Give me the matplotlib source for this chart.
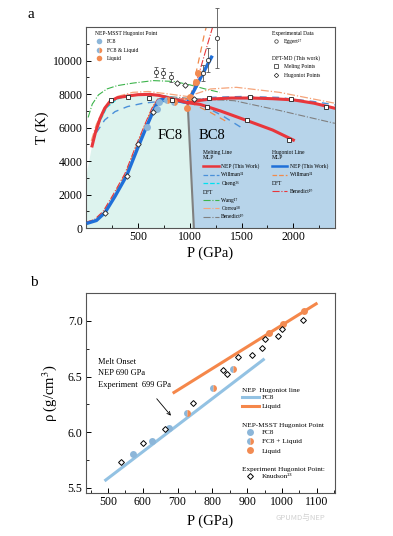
import numpy as np
import matplotlib.pyplot as plt
from matplotlib.lines import Line2D
from matplotlib.legend import Legend

plt.rcParams['font.family'] = ['Liberation Serif', 'DejaVu Serif']
plt.rcParams['mathtext.fontset'] = 'stix'
plt.rcParams['xtick.direction'] = 'in'
plt.rcParams['ytick.direction'] = 'in'

# ---------------- panel a data (P in GPa, T in K) ----------------
melt_fc8_P = [58, 90, 135, 180, 230, 300, 400, 500, 615, 700, 780, 870, 980]
melt_fc8_T = [4900, 5700, 6540, 7150, 7550, 7780, 7880, 7960, 7980, 7920, 7800, 7650, 7480]
melt_bc8_P = [980, 1100, 1200, 1400, 1600, 1800, 2000, 2200, 2400]
melt_bc8_T = [7480, 7620, 7700, 7760, 7760, 7720, 7650, 7450, 7150]
melt_meta_P = [980, 1100, 1300, 1550, 1800, 2000]
melt_meta_T = [7480, 7380, 6980, 6420, 5850, 5250]

hug_P = [20, 100, 183, 280, 391, 503, 590, 650, 700, 760, 850, 940, 980, 1050, 1120, 1210]
hug_T = [300, 450, 920, 1900, 3120, 4850, 6150, 7000, 7600, 7750, 7650, 7520, 7500, 8300, 9150, 10200]

willman_melt_P = [100, 180, 280, 400, 550, 700, 850, 980, 1200, 1500, 1850, 2200, 2400]
willman_melt_T = [5700, 6450, 6950, 7250, 7450, 7550, 7550, 7500, 7800, 7850, 7800, 7550, 7350]
willman_meta_P = [1000, 1150, 1330, 1510]
willman_meta_T = [7550, 7250, 6650, 5950]
cheng_P = [60, 120, 200, 300, 450, 600, 750, 900]
cheng_T = [5000, 6200, 7200, 7700, 7950, 8000, 7900, 7700]
wang_P = [20, 60, 120, 200, 300, 450, 650, 850, 1000, 1150, 1290]
wang_T = [6600, 7400, 7950, 8300, 8500, 8650, 8800, 8750, 8550, 8300, 8100]
correa_P = [50, 100, 180, 300, 450, 600, 800, 980, 1200, 1450, 1865, 2400]
correa_T = [5200, 6200, 7200, 7850, 8100, 8150, 8000, 7850, 8300, 8400, 8100, 7450]
benedict_melt_P = [60, 120, 200, 300, 450, 600, 800, 980, 1430, 1865, 2400]
benedict_melt_T = [5100, 6300, 7250, 7750, 7950, 8000, 7850, 7750, 7600, 7020, 6250]

willman_hug_P = [10, 90, 173, 270, 381, 493, 580, 640, 690, 1000, 1030, 1080, 1144, 1160]
willman_hug_T = [350, 520, 1000, 2000, 3250, 5000, 6300, 7150, 7700, 7700, 8400, 9800, 11650, 12000]
willman_hug2_P = [1000, 1200, 1385]
willman_hug2_T = [7500, 6900, 6250]
benedict_hug_P = [0, 80, 165, 262, 375, 487, 575, 635, 690, 1000, 1077, 1150, 1240]
benedict_hug_T = [350, 500, 1000, 2000, 3250, 5000, 6300, 7150, 7700, 7700, 8950, 10500, 12400]

boundary_P = [1040, 980]
boundary_T = [0, 7480]

msst_fc8_P = [587, 683, 705]
msst_fc8_T = [6060, 7090, 7550]
msst_mix_P = [780, 850]
msst_mix_T = [7650, 7500]
msst_liq_P = [970, 1000, 1058, 1077]
msst_liq_T = [7150, 7800, 8700, 9250]

eggert_P = [673, 740, 817, 1125, 1173, 1260]
eggert_T = [9300, 9250, 9000, 9250, 10030, 11350]
eggert_err = [300, 300, 300, 500, 700, 1800]

dft_melt_P = [240, 404, 606, 830, 1183, 1577, 1980, 2317, 1163, 1548, 1962]
dft_melt_T = [7620, 7800, 7750, 7620, 7750, 7800, 7680, 7200, 7200, 6420, 5280]
dft_hug_P = [183, 391, 503, 650, 875, 952, 1040]
dft_hug_T = [920, 3120, 5022, 6900, 8650, 8530, 7700]

# ---------------- panel b data (P in GPa, rho in g/cm3) ----------------
line_fc8_P = [490, 950]
line_fc8_rho = [5.563, 6.66]
line_liq_P = [686, 1102]
line_liq_rho = [6.35, 7.16]
b_fc8_P = [572, 626, 675]
b_fc8_rho = [5.806, 5.92, 6.04]
b_mix_P = [726, 802, 859]
b_mix_rho = [6.17, 6.398, 6.572]
b_liq_P = [964, 1002, 1062]
b_liq_rho = [6.893, 6.975, 7.088]
knudson_P = [537, 600, 663, 744, 830, 842, 873, 915, 942, 950, 988, 999, 1060]
knudson_rho = [5.73, 5.90, 6.03, 6.26, 6.557, 6.527, 6.677, 6.689, 6.752, 6.833, 6.863, 6.923, 7.004]

RED = '#e8363b'
BLUE = '#1f6fd8'
WBLUE = '#4a90d9'
CYAN = '#00e0f0'
GREEN = '#3cb44b'
CORREA = '#f5a47a'
GRAY = '#808080'
ODASH = '#f08a4b'
PT_BLUE = '#8cb6d9'
PT_ORANGE = '#f28b52'
FC8_FILL = '#ddf3ee'
BC8_FILL = '#b7d4ea'

fig = plt.figure(figsize=(3.93, 5.36), dpi=100)
ax = fig.add_axes([0.219, 0.5746, 0.633, 0.375])
bx = fig.add_axes([0.219, 0.0802, 0.633, 0.3732])

# ---------------- panel a ----------------
ax.fill(
    [0, 0] + melt_fc8_P + [boundary_P[0]],
    [0, 3000] + melt_fc8_T + [0],
    color=FC8_FILL, lw=0, zorder=0)
ax.fill(
    [boundary_P[0]] + melt_bc8_P + [2400],
    [0] + melt_bc8_T + [0],
    color=BC8_FILL, lw=0, zorder=0)
ax.plot(boundary_P, boundary_T, color=GRAY, lw=1.5, zorder=1)

ax.plot(wang_P, wang_T, color=GREEN, ls='-.', lw=0.8)
ax.plot(correa_P, correa_T, color=CORREA, ls='-.', lw=0.9)
ax.plot(benedict_melt_P, benedict_melt_T, color=GRAY, ls='-.', lw=0.8)
ax.plot(cheng_P, cheng_T, color=CYAN, ls='--', lw=0.9)
ax.plot(willman_melt_P, willman_melt_T, color=WBLUE, ls=(0, (5, 4)), lw=1.0)
ax.plot(willman_meta_P, willman_meta_T, color=WBLUE, ls=(0, (5, 4)), lw=1.0)
ax.plot(willman_hug_P, willman_hug_T, color=ODASH, ls=(0, (5, 4)), lw=0.9)
ax.plot(willman_hug2_P, willman_hug2_T, color=ODASH, ls=(0, (5, 4)), lw=0.9)
ax.plot(benedict_hug_P, benedict_hug_T, color=RED, ls='-.', lw=0.8)

ax.plot(hug_P, hug_T, color=BLUE, lw=2.4, zorder=3)
ax.plot(melt_fc8_P, melt_fc8_T, color=RED, lw=2.2, zorder=3)
ax.plot(melt_bc8_P, melt_bc8_T, color=RED, lw=2.2, zorder=3)
ax.plot(melt_meta_P, melt_meta_T, color=RED, lw=2.2, zorder=3)

ax.plot(msst_fc8_P, msst_fc8_T, 'o', ms=5, color=PT_BLUE, mec='none', zorder=5)
ax.plot(msst_mix_P, msst_mix_T, 'o', ms=5, fillstyle='left', mfc=PT_BLUE,
        markerfacecoloralt=PT_ORANGE, mec='none', zorder=5)
ax.plot(msst_liq_P, msst_liq_T, 'o', ms=5, color=PT_ORANGE, mec='none', zorder=5)

ax.errorbar(eggert_P, eggert_T, yerr=eggert_err, fmt='o', ms=3, mfc='white',
            mec='#333333', mew=0.6, ecolor='#555555', elinewidth=0.6, capsize=1.5,
            zorder=6, clip_on=False)
ax.errorbar(dft_melt_P, dft_melt_T, yerr=120, fmt='s', ms=3, mfc='white',
            mec='#222222', mew=0.6, ecolor='#555555', elinewidth=0.5, capsize=1,
            zorder=6)
ax.plot(dft_hug_P, dft_hug_T, 'D', ms=2.8, mfc='white', mec='#222222', mew=0.6, zorder=6)

ax.text(808, 5500, 'FC8', fontsize=10.5, ha='center', va='center')
ax.text(1212, 5500, 'BC8', fontsize=10.5, ha='center', va='center')

ax.set_xlim(0, 2400)
ax.set_ylim(0, 12000)
ax.set_xticks([500, 1000, 1500, 2000])
ax.set_xticks(np.arange(250, 2400, 500), minor=True)
ax.set_yticks(np.arange(0, 10001, 2000))
ax.set_yticks(np.arange(1000, 12000, 2000), minor=True)
ax.set_xlabel('P (GPa)', fontsize=10.5, labelpad=2)
ax.set_ylabel('T (K)', fontsize=10.5, labelpad=3)

fs_a = 4.0
kw_a = dict(loc='upper left', frameon=False, fontsize=fs_a, title_fontsize=fs_a,
            borderpad=0, borderaxespad=0, alignment='left', labelspacing=0.62,
            handletextpad=0.5, handleheight=0.6)


def add_leg(axis, handles, labels, title, x, y, sep=2, **kw):
    lg = Legend(axis, handles, labels, title=title, bbox_to_anchor=(x, y), **kw)
    lg._legend_box.sep = sep
    axis.add_artist(lg)
    return lg


h_fc8 = Line2D([], [], ls='none', marker='o', ms=4, color=PT_BLUE, mec='none')
h_mix = Line2D([], [], ls='none', marker='o', ms=4, fillstyle='left', mfc=PT_BLUE,
               markerfacecoloralt=PT_ORANGE, mec='none')
h_liq = Line2D([], [], ls='none', marker='o', ms=4, color=PT_ORANGE, mec='none')
add_leg(ax, [h_fc8, h_mix, h_liq], ['FC8', 'FC8 & Liquid', 'Liquid'],
        'NEP-MSST Hugoniot Point', 0.036, 0.978, handlelength=1.6, **kw_a)

h_egg = Line2D([], [], ls='none', marker='o', ms=2.5, mfc='white', mec='#333333', mew=0.5)
add_leg(ax, [h_egg], ['Eggert²⁷'], 'Experimental Data', 0.747, 0.978,
        handlelength=1.6, **kw_a)
h_sq = Line2D([], [], ls='none', marker='s', ms=2.5, mfc='white', mec='#222222', mew=0.5)
h_di = Line2D([], [], ls='none', marker='D', ms=2.3, mfc='white', mec='#222222', mew=0.5)
add_leg(ax, [h_sq, h_di], ['Meling Points', 'Hugoniot Points'], 'DFT-MD (This work)',
        0.747, 0.858, handlelength=1.6, **kw_a)

add_leg(ax,
        [Line2D([], [], color=RED, lw=1.8),
         Line2D([], [], color=WBLUE, ls='--', lw=0.9),
         Line2D([], [], color=CYAN, ls='--', lw=0.9)],
        ['NEP (This Work)', 'Willman³¹', 'Cheng²⁶'],
        'Melting Line\nMLP', 0.47, 0.39, handlelength=2.8, **kw_a)
add_leg(ax,
        [Line2D([], [], color=GREEN, ls='-.', lw=0.8),
         Line2D([], [], color=CORREA, ls='-.', lw=0.8),
         Line2D([], [], color=GRAY, ls='-.', lw=0.8)],
        ['Wang¹⁷', 'Correa¹⁸', 'Benedict¹⁹'],
        'DFT', 0.47, 0.19, handlelength=2.8, **kw_a)
add_leg(ax,
        [Line2D([], [], color=BLUE, lw=1.8),
         Line2D([], [], color=ODASH, ls='--', lw=0.9)],
        ['NEP (This Work)', 'Willman³¹'],
        'Hugoniot Line\nMLP', 0.747, 0.39, handlelength=2.8, **kw_a)
add_leg(ax,
        [Line2D([], [], color=RED, ls='-.', lw=0.8)],
        ['Benedict¹⁹'],
        'DFT', 0.747, 0.232, handlelength=2.8, **kw_a)

# ---------------- panel b ----------------
bx.plot(line_fc8_P, line_fc8_rho, color='#93c2e3', lw=2.2, solid_capstyle='butt', zorder=2)
bx.plot(line_liq_P, line_liq_rho, color='#f5874a', lw=2.2, solid_capstyle='butt', zorder=2)
bx.plot(b_fc8_P, b_fc8_rho, 'o', ms=5, color=PT_BLUE, mec='none', zorder=4)
bx.plot(b_mix_P, b_mix_rho, 'o', ms=5, fillstyle='left', mfc=PT_BLUE,
        markerfacecoloralt=PT_ORANGE, mec='none', zorder=4)
bx.plot(b_liq_P, b_liq_rho, 'o', ms=5, color=PT_ORANGE, mec='none', zorder=4)
bx.plot(knudson_P, knudson_rho, 'D', ms=3, mfc='white', mec='black', mew=0.7, zorder=5)

bx.text(471, 6.665, 'Melt Onset\nNEP 690 GPa\nExperiment  699 GPa', fontsize=6,
        ha='left', va='top', linespacing=1.55)
bx.annotate('', xy=(686, 6.13), xytext=(635, 6.32),
            arrowprops=dict(arrowstyle='->', color='black', lw=0.6, mutation_scale=6))

bx.set_xlim(437, 1152)
bx.set_ylim(5.455, 7.25)
bx.set_xticks(np.arange(500, 1101, 100))
bx.set_xticks(np.arange(450, 1151, 100), minor=True)
bx.set_yticks([5.5, 6.0, 6.5, 7.0])
bx.set_yticks([5.75, 6.25, 6.75, 7.25], minor=True)
bx.set_xlabel('P (GPa)', fontsize=10.5, labelpad=4)
bx.set_ylabel('ρ (g/cm$^3$)', fontsize=10.5, labelpad=6)

fs_b = 5.2
kw_b = dict(loc='upper left', frameon=False, fontsize=fs_b, title_fontsize=fs_b,
            borderpad=0, borderaxespad=0, alignment='left', labelspacing=0.45,
            handletextpad=0.4)
add_leg(bx,
        [Line2D([], [], color='#93c2e3', lw=2.2), Line2D([], [], color='#f5874a', lw=2.2)],
        ['FC8', 'Liquid'], 'NEP  Hugoniot line', 0.627, 0.527, sep=1,
        handlelength=2.3, **kw_b)
hb_fc8 = Line2D([], [], ls='none', marker='o', ms=5, color=PT_BLUE, mec='none')
hb_mix = Line2D([], [], ls='none', marker='o', ms=5, fillstyle='left', mfc=PT_BLUE,
                markerfacecoloralt=PT_ORANGE, mec='none')
hb_liq = Line2D([], [], ls='none', marker='o', ms=5, color=PT_ORANGE, mec='none')
add_leg(bx, [hb_fc8, hb_mix, hb_liq], ['FC8', 'FC8 + Liquid', 'Liquid'],
        'NEP-MSST Hugoniot Point', 0.627, 0.352, sep=1, handlelength=2.3, **kw_b)
hb_kn = Line2D([], [], ls='none', marker='D', ms=3, mfc='white', mec='black', mew=0.7)
add_leg(bx, [hb_kn], ['Knudson²³'], 'Experiment Hugoniot Point:',
        0.627, 0.132, sep=1, handlelength=2.3, **kw_b)

for a in (ax, bx):
    a.tick_params(which='major', length=3.5, width=0.7, labelsize=8.5, pad=2.5,
                  top=False, right=False)
    a.tick_params(which='minor', length=2, width=0.6, top=False, right=False)
    for s in a.spines.values():
        s.set_color('#555555')
        s.set_linewidth(0.8)

fig.text(28 / 393, 1 - 15 / 536, 'a', fontsize=11, ha='left', va='center')
fig.text(30 / 393, 1 - 282 / 536, 'b', fontsize=11, ha='left', va='center')
fig.text(325 / 393, 1 - 518 / 536, 'GPUMD与NEP', fontsize=5.5, color='#d0d0d0',
         ha='right', va='center', family=['Noto Sans CJK SC', 'DejaVu Sans'])

fig.savefig('out.png', dpi=100)
